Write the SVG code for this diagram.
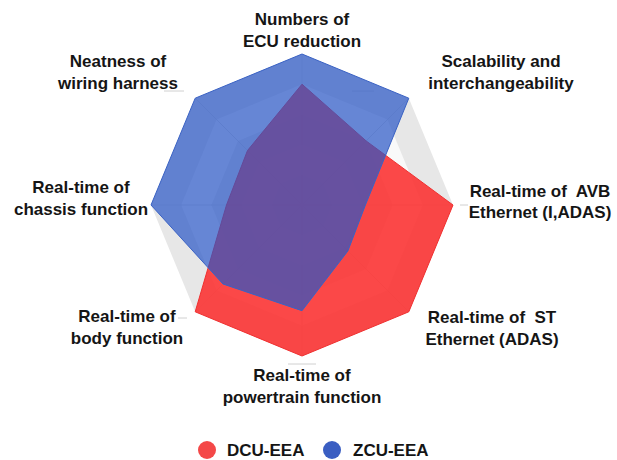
<svg xmlns="http://www.w3.org/2000/svg" width="617" height="460" viewBox="0 0 617 460">
  <style>
    .lbl { font-family: "Liberation Sans", Arial, sans-serif; font-weight: bold; font-size: 17px; fill: #151515; text-anchor: middle; white-space: pre; }
    .leg { font-family: "Liberation Sans", Arial, sans-serif; font-weight: bold; font-size: 17px; fill: #151515; }
    .ringA { fill: #e7e7e7; stroke: none; }
    .ringB { fill: #f9f9f9; stroke: none; }
    .axis { stroke: #d4d4d4; stroke-width: 0.8; fill: none; }
    .tick { stroke: #d0d0d0; stroke-width: 1; }
    .dcu { fill: #fb3434; fill-opacity: 0.9; stroke: #f03030; stroke-width: 1; stroke-linejoin: round; }
    .zcu { fill: #2855c6; fill-opacity: 0.7; stroke: #3a62c4; stroke-width: 1; stroke-linejoin: round; }
  </style>
  <rect width="617" height="460" fill="#ffffff"/>

  <!-- radar grid: five octagonal bands around (302,205), radius 151 -->
  <g id="grid">
    <polygon class="ringA" points="302,54 408.8,98.2 453,205 408.8,311.8 302,356 195.2,311.8 151,205 195.2,98.2"/>
    <polygon class="ringB" points="302,84.2 387.4,119.6 422.8,205 387.4,290.4 302,325.8 216.6,290.4 181.2,205 216.6,119.6"/>
    <polygon class="ringA" points="302,114.4 366.1,140.9 392.6,205 366.1,269.1 302,295.6 237.9,269.1 211.4,205 237.9,140.9"/>
    <polygon class="ringB" points="302,144.6 344.7,162.3 362.4,205 344.7,247.7 302,265.4 259.3,247.7 241.6,205 259.3,162.3"/>
    <polygon class="ringA" points="302,174.8 323.4,183.6 332.2,205 323.4,226.4 302,235.2 280.6,226.4 271.8,205 280.6,183.6"/>
    <path class="axis" d="M302,205L302,54M302,205L408.8,98.2M302,205L453,205M302,205L408.8,311.8M302,205L302,356M302,205L195.2,311.8M302,205L151,205M302,205L195.2,98.2"/>
    <!-- faint axis marks beside the labels -->
    <path class="tick" d="M164,91H184M352,91H374M460,205H468M178,318H187M288,364H316"/>
  </g>

  <!-- data series -->
  <g id="series">
    <polygon id="dcu-eea" class="dcu" points="302,84.2 366.1,140.9 453,205 408.8,311.8 302,356 195.2,311.8 226.5,205 247.5,150.5"/>
    <polygon id="zcu-eea" class="zcu" points="302,54 408.8,98.2 365.4,205 347.9,250.9 302,310.7 223,284 151,205 195.2,98.2"/>
  </g>

  <!-- axis labels -->
  <g id="label-ecu">
    <text class="lbl" x="302" y="25">Numbers of</text>
    <text class="lbl" x="302" y="47">ECU reduction</text>
  </g>
  <g id="label-scalability">
    <text class="lbl" x="501" y="67">Scalability and</text>
    <text class="lbl" x="501" y="89">interchangeability</text>
  </g>
  <g id="label-avb">
    <text class="lbl" x="540" y="197" xml:space="preserve">Real-time of  AVB</text>
    <text class="lbl" x="540" y="218">Ethernet (I,ADAS)</text>
  </g>
  <g id="label-st">
    <text class="lbl" x="492" y="323" xml:space="preserve">Real-time of  ST</text>
    <text class="lbl" x="492" y="345">Ethernet (ADAS)</text>
  </g>
  <g id="label-powertrain">
    <text class="lbl" x="302" y="381">Real-time of</text>
    <text class="lbl" x="302" y="403">powertrain function</text>
  </g>
  <g id="label-body">
    <text class="lbl" x="127" y="322">Real-time of</text>
    <text class="lbl" x="127" y="344">body function</text>
  </g>
  <g id="label-chassis">
    <text class="lbl" x="81" y="193">Real-time of</text>
    <text class="lbl" x="81" y="215">chassis function</text>
  </g>
  <g id="label-wiring">
    <text class="lbl" x="118" y="67">Neatness of</text>
    <text class="lbl" x="118" y="89">wiring harness</text>
  </g>

  <!-- legend -->
  <g id="legend">
    <circle cx="207" cy="450" r="9" fill="#f44848"/>
    <text class="leg" x="227" y="456">DCU-EEA</text>
    <circle cx="332" cy="450" r="9" fill="#3a5ec2"/>
    <text class="leg" x="353" y="456">ZCU-EEA</text>
  </g>
</svg>
